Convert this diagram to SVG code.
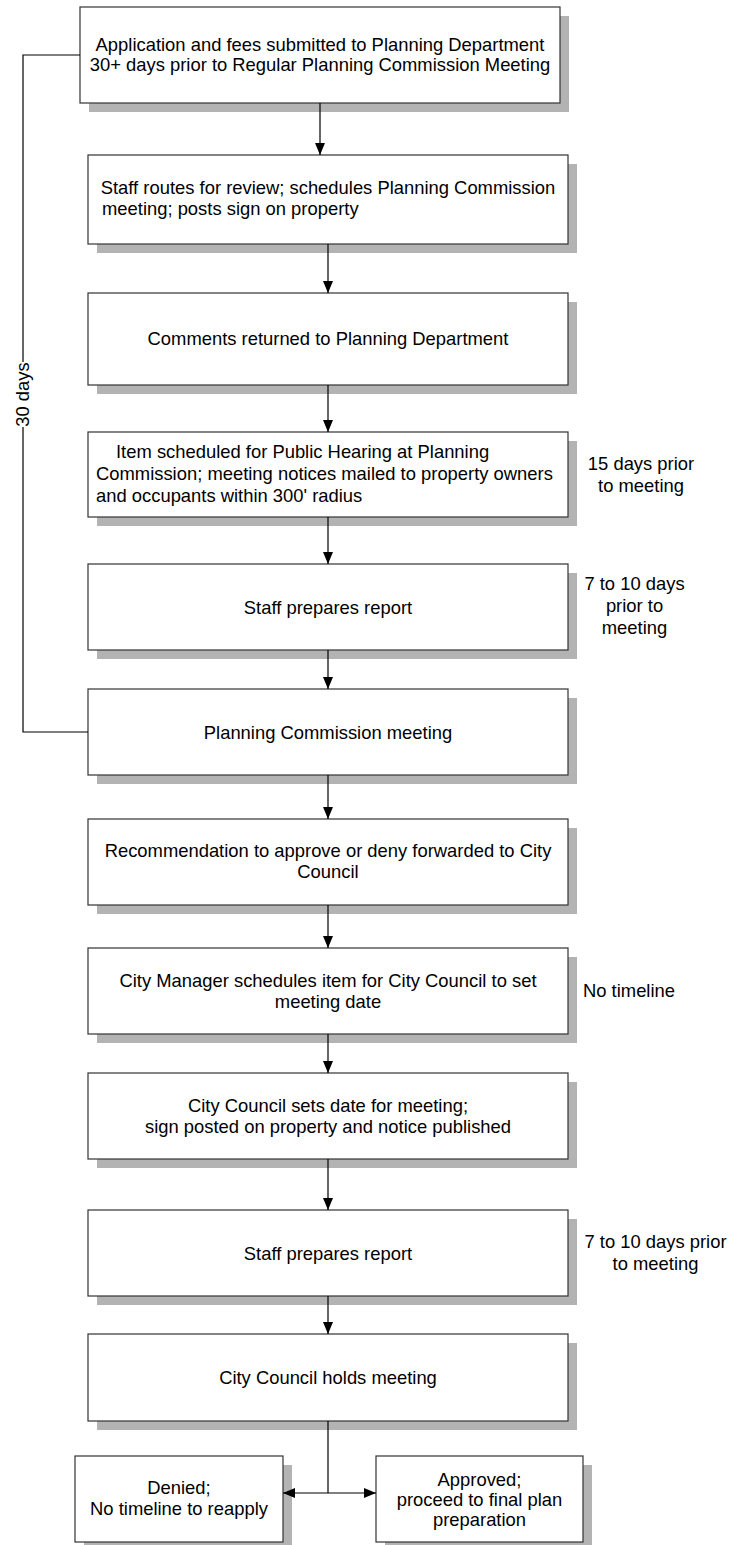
<svg xmlns="http://www.w3.org/2000/svg" width="731" height="1545" viewBox="0 0 731 1545">
<defs>
<style>
.box{fill:#fff;stroke:#333;stroke-width:1.2}
.sh{fill:#b3b3b3}
.t{font-family:"Liberation Sans",Arial,sans-serif;font-size:18.4px;fill:#000}
.m{text-anchor:middle}
.c{fill:none;stroke:#000;stroke-width:1.2}
</style>
<marker id="ah" viewBox="0 0 12 10" refX="12" refY="5" markerWidth="12" markerHeight="10" markerUnits="userSpaceOnUse" orient="auto">
<path d="M0,0 L12,5 L0,10 z" fill="#000"/>
</marker>
</defs>
<rect width="731" height="1545" fill="#fff"/>

<g id="n1"><rect class="sh" x="89" y="16" width="480" height="96"/><rect class="box" x="80" y="7" width="480" height="96"/>
<text class="t m" x="320" y="50.5">Application and fees submitted to Planning Department</text>
<text class="t m" x="320" y="71">30+ days prior to Regular Planning Commission Meeting</text></g>

<g id="n2"><rect class="sh" x="97" y="164" width="480" height="89"/><rect class="box" x="88" y="155" width="480" height="89"/>
<text class="t m" x="328" y="194">Staff routes for review; schedules Planning Commission</text>
<text class="t" x="102" y="215">meeting; posts sign on property</text></g>

<g id="n3"><rect class="sh" x="97" y="302" width="480" height="92"/><rect class="box" x="88" y="293" width="480" height="92"/>
<text class="t m" x="328" y="345">Comments returned to Planning Department</text></g>

<g id="n4"><rect class="sh" x="97" y="441" width="480" height="85"/><rect class="box" x="88" y="432" width="480" height="85"/>
<text class="t" x="116" y="458">Item scheduled for Public Hearing at Planning</text>
<text class="t" x="96" y="480">Commission; meeting notices mailed to property owners</text>
<text class="t" x="96" y="502">and occupants within 300' radius</text></g>

<g id="n5"><rect class="sh" x="97" y="573" width="480" height="86"/><rect class="box" x="88" y="564" width="480" height="86"/>
<text class="t m" x="328" y="613.5">Staff prepares report</text></g>

<g id="n6"><rect class="sh" x="97" y="698" width="480" height="86"/><rect class="box" x="88" y="689" width="480" height="86"/>
<text class="t m" x="328" y="738.5">Planning Commission meeting</text></g>

<g id="n7"><rect class="sh" x="97" y="828" width="480" height="86"/><rect class="box" x="88" y="819" width="480" height="86"/>
<text class="t m" x="328" y="857">Recommendation to approve or deny forwarded to City</text>
<text class="t m" x="328" y="878">Council</text></g>

<g id="n8"><rect class="sh" x="97" y="957" width="480" height="86"/><rect class="box" x="88" y="948" width="480" height="86"/>
<text class="t m" x="328" y="987">City Manager schedules item for City Council to set</text>
<text class="t m" x="328" y="1008">meeting date</text></g>

<g id="n9"><rect class="sh" x="97" y="1082" width="480" height="86"/><rect class="box" x="88" y="1073" width="480" height="86"/>
<text class="t m" x="328" y="1112">City Council sets date for meeting;</text>
<text class="t m" x="328" y="1133">sign posted on property and notice published</text></g>

<g id="n10"><rect class="sh" x="97" y="1219" width="480" height="86"/><rect class="box" x="88" y="1210" width="480" height="86"/>
<text class="t m" x="328" y="1259.5">Staff prepares report</text></g>

<g id="n11"><rect class="sh" x="97" y="1343" width="480" height="87"/><rect class="box" x="88" y="1334" width="480" height="87"/>
<text class="t m" x="328" y="1384">City Council holds meeting</text></g>

<g id="n12"><rect class="sh" x="84" y="1465" width="208" height="86"/><rect class="box" x="75" y="1456" width="208" height="86"/>
<text class="t m" x="179" y="1493.5">Denied;</text>
<text class="t m" x="179" y="1515">No timeline to reapply</text></g>

<g id="n13"><rect class="sh" x="385" y="1465" width="207" height="86"/><rect class="box" x="376" y="1456" width="207" height="86"/>
<text class="t m" x="479.5" y="1486">Approved;</text>
<text class="t m" x="479.5" y="1506">proceed to final plan</text>
<text class="t m" x="479.5" y="1526">preparation</text></g>

<g id="labels">
<text class="t m" x="641" y="470">15 days prior</text>
<text class="t m" x="641" y="492">to meeting</text>
<text class="t m" x="634.5" y="590">7 to 10 days</text>
<text class="t m" x="634.5" y="612">prior to</text>
<text class="t m" x="634.5" y="634">meeting</text>
<text class="t" x="583" y="997">No timeline</text>
<text class="t m" x="655.5" y="1248">7 to 10 days prior</text>
<text class="t m" x="655.5" y="1270">to meeting</text>
<text class="t m" transform="translate(29,394.5) rotate(-90)">30 days</text>
</g>

<g id="connectors">
<line class="c" x1="320" y1="103" x2="320" y2="155" marker-end="url(#ah)"/>
<line class="c" x1="328" y1="244" x2="328" y2="293" marker-end="url(#ah)"/>
<line class="c" x1="328" y1="385" x2="328" y2="432" marker-end="url(#ah)"/>
<line class="c" x1="328" y1="517" x2="328" y2="564" marker-end="url(#ah)"/>
<line class="c" x1="328" y1="650" x2="328" y2="689" marker-end="url(#ah)"/>
<line class="c" x1="328" y1="775" x2="328" y2="819" marker-end="url(#ah)"/>
<line class="c" x1="328" y1="905" x2="328" y2="948" marker-end="url(#ah)"/>
<line class="c" x1="328" y1="1034" x2="328" y2="1073" marker-end="url(#ah)"/>
<line class="c" x1="328" y1="1159" x2="328" y2="1210" marker-end="url(#ah)"/>
<line class="c" x1="328" y1="1296" x2="328" y2="1334" marker-end="url(#ah)"/>
<polyline class="c" points="328,1421 328,1493"/>
<line class="c" x1="328" y1="1493" x2="283" y2="1493" marker-end="url(#ah)"/>
<line class="c" x1="328" y1="1493" x2="376" y2="1493" marker-end="url(#ah)"/>
<polyline class="c" points="80,55 23,55 23,362"/>
<polyline class="c" points="23,427 23,732 88,732"/>
</g>
</svg>
